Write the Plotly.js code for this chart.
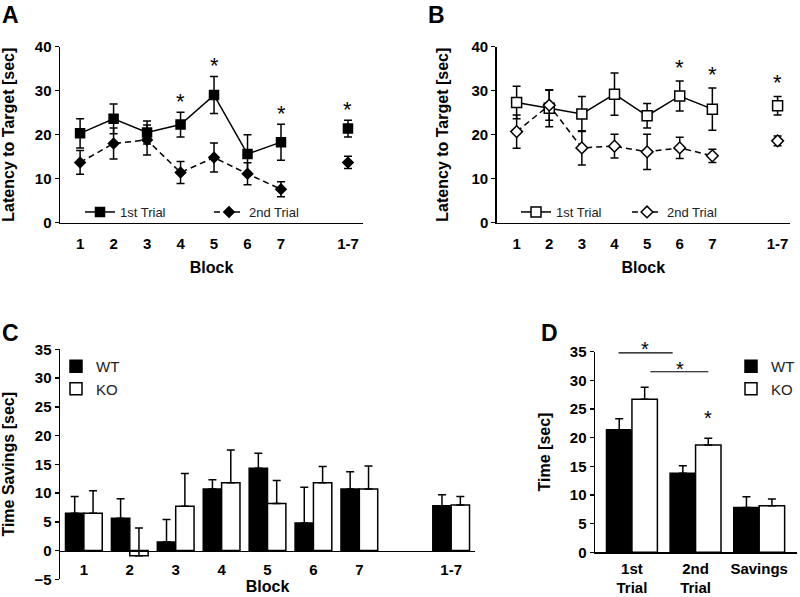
<!DOCTYPE html>
<html><head><meta charset="utf-8">
<script src="https://cdn.plot.ly/plotly-3.0.1.min.js"></script>
<style>html,body{margin:0;padding:0;background:#fff}#chart{width:800px;height:597px}</style>
</head><body><div id="chart"></div>
<script>
// ---------- DATA ----------
const blocks = ['1','2','3','4','5','6','7'];
const overall = '1-7';

// Panel A (WT): latency to target
const aTrial1 = [20.3, 23.6, 20.5, 22.3, 29.0, 15.6, 18.3];
const aTrial1Err = [3.3, 3.4, 2.6, 2.8, 4.2, 4.4, 4.1];
const aTrial2 = [13.7, 18.0, 18.8, 11.4, 14.8, 11.1, 7.6];
const aTrial2Err = [2.7, 3.5, 3.4, 2.5, 3.3, 2.5, 1.7];
const aOverall1 = 21.4, aOverall1Err = 1.9;
const aOverall2 = 13.7, aOverall2Err = 1.4;
const aSig = ['4','5','7','1-7'];

// Panel B (KO): latency to target
const bTrial1 = [27.3, 26.0, 24.7, 29.2, 24.3, 28.8, 25.8];
const bTrial1Err = [3.7, 4.2, 4.0, 4.8, 2.8, 3.4, 4.8];
const bTrial2 = [20.7, 26.7, 17.0, 17.4, 16.1, 17.0, 15.2];
const bTrial2Err = [3.8, 3.4, 3.9, 2.7, 4.0, 2.4, 1.5];
const bOverall1 = 26.6, bOverall1Err = 2.1;
const bOverall2 = 18.6, bOverall2Err = 1.1;
const bSig = ['6','7','1-7'];

// Panel C: time savings per block (incl. 1-7)
const cCats = ['1','2','3','4','5','6','7','1-7'];
const cWT = [6.5, 5.6, 1.5, 10.7, 14.3, 4.8, 10.7, 7.8];
const cWTErr = [2.9, 3.4, 3.9, 1.6, 2.6, 6.2, 3.0, 1.9];
const cKO = [6.5, -0.9, 7.7, 11.8, 8.2, 11.8, 10.7, 7.9];
const cKOErr = [3.9, 4.8, 5.7, 5.7, 4.0, 2.8, 4.0, 1.5];

// Panel D: summary
const dCats = ['1st Trial','2nd Trial','Savings'];
const dWT = [21.4, 13.8, 7.8];
const dWTErr = [1.9, 1.3, 1.9];
const dKO = [26.7, 18.7, 8.1];
const dKOErr = [2.1, 1.2, 1.2];

// ---------- STYLE ----------
const FONT = 'Liberation Sans, Arial, sans-serif';
const K = '#000';
const catsWithGap = blocks.concat([' ', overall]);

function errY(arr, opts) {
  return Object.assign({type:'data', array: arr, visible:true, color:K, thickness:1.5, width:4}, opts||{});
}
function lineTrace(xa, ya, x, y, e, name, legend, symbol, fill, dash, size) {
  return {type:'scatter', mode:'lines+markers', x:x, y:y, xaxis:xa, yaxis:ya, name:name, legend:legend,
    line:{color:K, width:1.5, dash:dash}, marker:{symbol:symbol, size:size, color:fill, line:{color:K, width:1.5}},
    error_y: errY(e), cliponaxis:false};
}
function pointTrace(xa, ya, x, y, e, symbol, fill, size) {
  return {type:'scatter', mode:'markers', x:[x], y:[y], xaxis:xa, yaxis:ya, showlegend:false,
    marker:{symbol:symbol, size:size, color:fill, line:{color:K, width:1.5}}, error_y: errY([e]), cliponaxis:false};
}
function barTrace(xa, ya, x, y, e, name, legend, fill) {
  return {type:'bar', x:x, y:y, xaxis:xa, yaxis:ya, name:name, legend:legend,
    marker:{color:fill, line:{color:K, width:1.5}},
    error_y: errY(e, {symmetric:false, arrayminus: e.map(()=>0)})};
}

const traces = [
  lineTrace('x','y', blocks, aTrial1, aTrial1Err, '1st Trial', 'legend', 'square', K, 'solid', 9),
  lineTrace('x','y', blocks, aTrial2, aTrial2Err, '2nd Trial', 'legend', 'diamond', K, '6px,4px', 8),
  pointTrace('x','y', overall, aOverall1, aOverall1Err, 'square', K, 9),
  pointTrace('x','y', overall, aOverall2, aOverall2Err, 'diamond', K, 8),
  lineTrace('x2','y2', blocks, bTrial1, bTrial1Err, '1st Trial', 'legend2', 'square', '#fff', 'solid', 10),
  lineTrace('x2','y2', blocks, bTrial2, bTrial2Err, '2nd Trial', 'legend2', 'diamond', '#fff', '6px,4px', 9),
  pointTrace('x2','y2', overall, bOverall1, bOverall1Err, 'square', '#fff', 10),
  pointTrace('x2','y2', overall, bOverall2, bOverall2Err, 'diamond', '#fff', 9),
  barTrace('x3','y3', cCats, cWT, cWTErr, 'WT', 'legend3', K),
  barTrace('x3','y3', cCats, cKO, cKOErr, 'KO', 'legend3', '#fff'),
  barTrace('x4','y4', dCats, dWT, dWTErr, 'WT', 'legend4', K),
  barTrace('x4','y4', dCats, dKO, dKOErr, 'KO', 'legend4', '#fff')
];

const tickFont = {family:FONT, size:15, color:K, weight:'bold'};
const titleFont = {family:FONT, size:16, color:K, weight:'bold'};
function yAx(domain, range, dtick, title, anchor, standoff) {
  return {domain:domain, range:range, dtick:dtick, anchor:anchor, showline:true, linecolor:K, linewidth:1.5,
    ticks:'outside', ticklen:4, tickwidth:1.5, tickcolor:K, showgrid:false, zeroline:false,
    tickfont:tickFont, title:{text:title, font:titleFont, standoff:standoff}, automargin:false, fixedrange:true};
}
function xAx(domain, range, cats, title, anchor, extra) {
  return Object.assign({domain:domain, range:range, type:'category', categoryorder:'array', categoryarray:cats,
    anchor:anchor, showline:true, linecolor:K, linewidth:1.5, ticks:'outside', ticklen:7, tickcolor:'rgba(0,0,0,0)',
    showgrid:false, zeroline:false, tickfont:tickFont, title:{text:title, font:titleFont, standoff:10},
    automargin:false, fixedrange:true}, extra||{});
}

const yDomAB = [0.627, 0.9218];
const yDomC = [0.0297, 0.4149];
const yDomD = [0.0749, 0.4109];
const cZeroPos = yDomC[0] + (yDomC[1]-yDomC[0]) * (5/40);

const legendBase = {bgcolor:'rgba(0,0,0,0)', font:{family:FONT, size:13, color:'#222'}, borderwidth:0};

const annotations = [];
function sig(xref, yref, xIdx, y, shift, size) {
  annotations.push({xref:xref, yref:yref, x:xIdx, y:y, text:'*', showarrow:false, yanchor:'middle', yshift:shift,
    font:{family:FONT, size:size||22, color:K}});
}
aSig.forEach(c => {
  const i = blocks.indexOf(c);
  const top = i >= 0 ? aTrial1[i] + aTrial1Err[i] : aOverall1 + aOverall1Err;
  sig('x','y', catsWithGap.indexOf(c), top, 11);
});
bSig.forEach(c => {
  const i = blocks.indexOf(c);
  const top = i >= 0 ? bTrial1[i] + bTrial1Err[i] : bOverall1 + bOverall1Err;
  sig('x2','y2', catsWithGap.indexOf(c), top, 14);
});
// D: KO 2nd trial vs WT
sig('x4','y4', 1.2, dKO[1] + dKOErr[1], 20, 20);
// D: brackets 1st vs 2nd trial
sig('x4','y4', 0.21, 35, 3, 20);
sig('x4','y4', 0.75, 31.5, 3, 20);

const panelLabels = [['A',0.0,1.0],['B',0.532,1.0],['C',0.0,0.468],['D',0.674,0.468]];
panelLabels.forEach(p => annotations.push({xref:'paper', yref:'paper', x:p[1], y:p[2], xanchor:'left', yanchor:'top',
  text:'<b>'+p[0]+'</b>', showarrow:false, font:{family:FONT, size:23, color:K}}));

const shapes = [
  {type:'line', xref:'x4', yref:'y4', x0:-0.21, x1:0.64, y0:34.8, y1:34.8, line:{color:K, width:1.2}},
  {type:'line', xref:'x4', yref:'y4', x0:0.29, x1:1.2, y0:31.5, y1:31.5, line:{color:K, width:1.2}}
];

const layout = {
  width:800, height:597, margin:{l:0, r:0, t:0, b:0}, paper_bgcolor:'#fff', plot_bgcolor:'rgba(0,0,0,0)',
  font:{family:FONT, color:K}, barmode:'group', bargap:0.2, bargroupgap:0,
  xaxis: xAx([0.075, 0.4538], [-0.6, 8.45], catsWithGap, 'Block', 'y'),
  yaxis: yAx(yDomAB, [0, 40], 10, 'Latency to Target [sec]', 'x', 19),
  xaxis2: xAx([0.6209, 0.9875], [-0.61, 8.38], catsWithGap, 'Block', 'y2'),
  yaxis2: yAx(yDomAB, [0, 40], 10, 'Latency to Target [sec]', 'x2', 19),
  xaxis3: xAx([0.075, 0.5938], [-0.52, 8.52], cCats.slice(0,7).concat([' ', '1-7']), 'Block', 'free',
    {position: cZeroPos, ticklen:5, title:{text:'Block', font:titleFont, standoff:4}}),
  yaxis3: yAx(yDomC, [-5, 35], 5, 'Time Savings [sec]', 'x3', 16),
  xaxis4: xAx([0.7438, 0.9959], [-0.58, 2.59], dCats, '', 'y4',
    {tickvals:dCats, ticktext:dCats.map(s => s.replace(' ', '<br>')), ticklen:2}),
  yaxis4: yAx(yDomD, [0, 35], 5, 'Time [sec]', 'x4', 15),
  legend: Object.assign({}, legendBase, {orientation:'h', x:0.1, y:1-212/597, xanchor:'left', yanchor:'middle', entrywidth:84}),
  legend2: Object.assign({}, legendBase, {orientation:'h', x:0.645, y:1-212/597, xanchor:'left', yanchor:'middle', entrywidth:66}),
  legend3: Object.assign({}, legendBase, {orientation:'v', x:0.07, y:1-350/597, xanchor:'left', yanchor:'top', font:{family:FONT, size:15, color:'#222'}}),
  legend4: Object.assign({}, legendBase, {orientation:'v', x:1.0, y:1-350/597, xanchor:'right', yanchor:'top', font:{family:FONT, size:15, color:'#222'}}),
  annotations: annotations, shapes: shapes, showlegend:true
};

Plotly.newPlot('chart', traces, layout, {staticPlot:true, displayModeBar:false});
</script></body></html>
